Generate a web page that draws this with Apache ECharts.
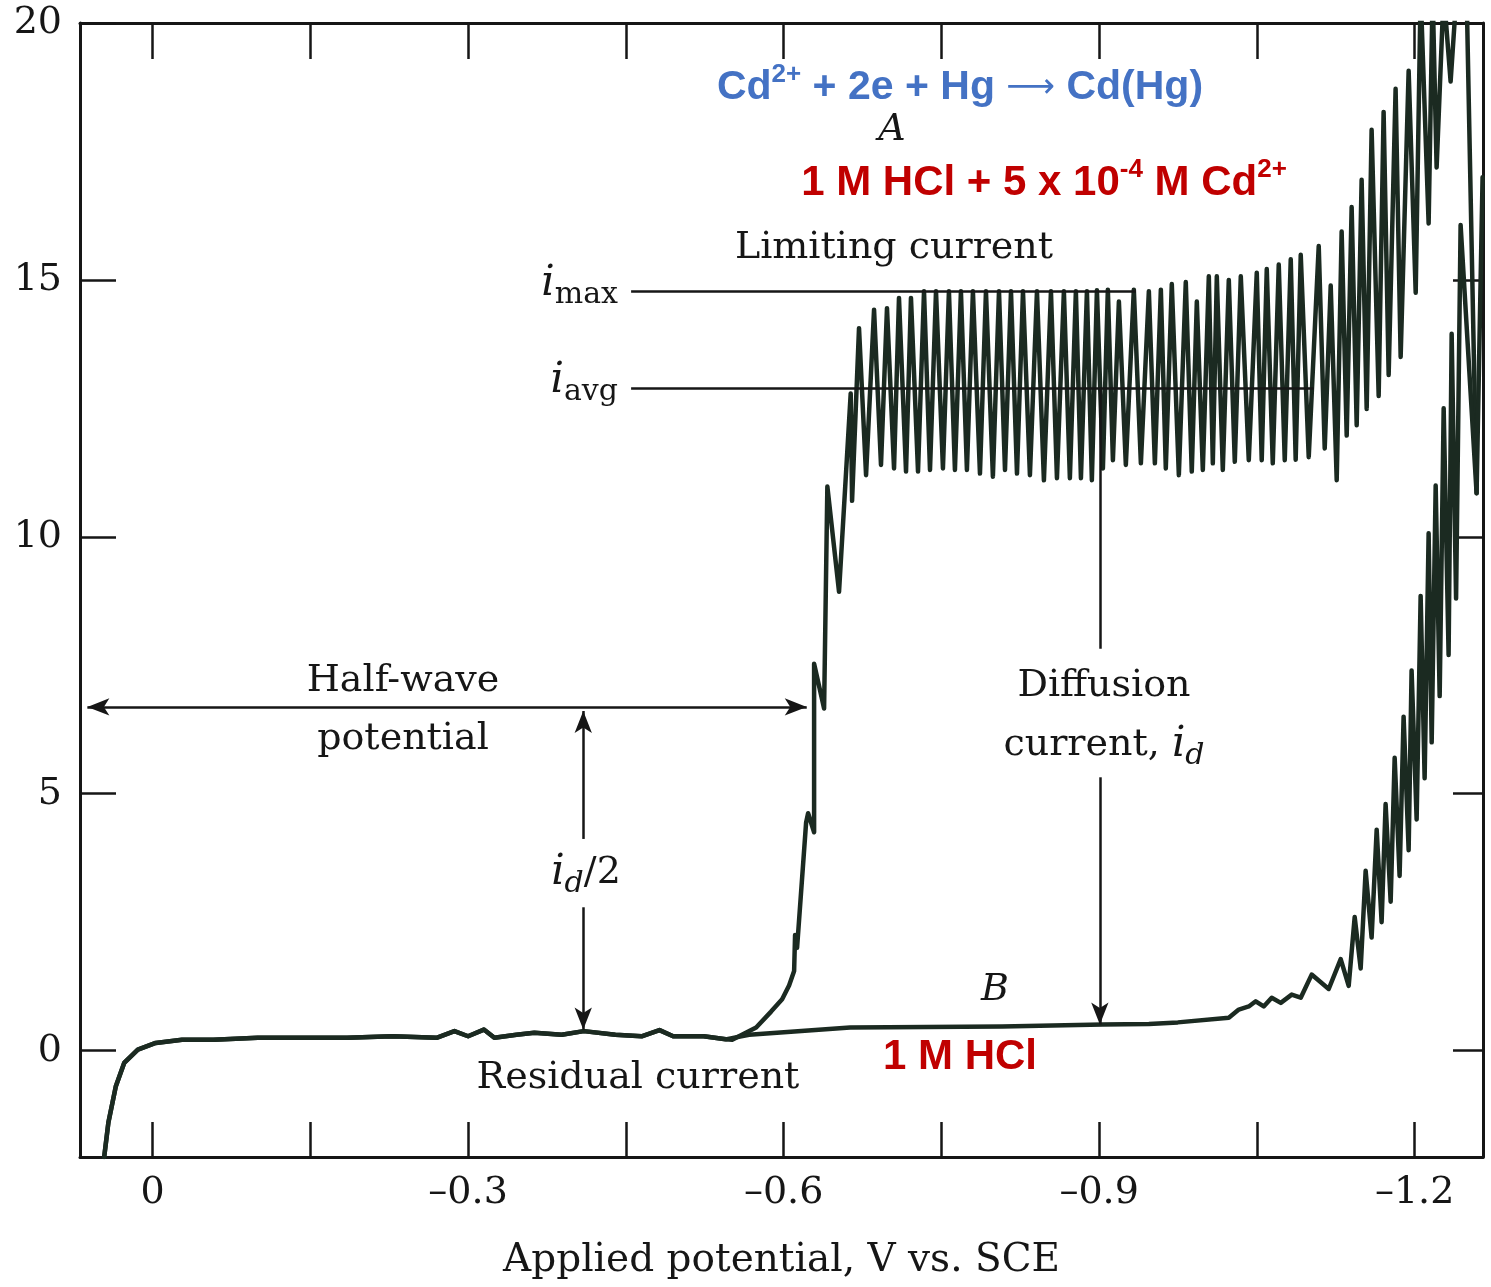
<!DOCTYPE html>
<html><head><meta charset="utf-8">
<script src="https://cdn.jsdelivr.net/npm/echarts@6/dist/echarts.min.js"></script>
<style>html,body{margin:0;padding:0;background:#fff;}#c{width:1491px;height:1287px;}</style>
</head><body><div id="c"></div>
<script>
// ---------- axis ranges & ticks ----------
const xMin = -1.265, xMax = 0.069;
const yMin = -2.07, yMax = 20;
const xTickValues = [0, -0.15, -0.3, -0.45, -0.6, -0.75, -0.9, -1.05, -1.2];
const xLabelValues = [0, -0.3, -0.6, -0.9, -1.2];
const yTickValues = [0, 5, 10, 15, 20];

// ---------- common residual-current part (V vs SCE, µA) ----------
const baseV = [0.046, 0.042, 0.035, 0.027, 0.014, -0.003, -0.028, -0.058, -0.100, -0.185, -0.228, -0.270, -0.287, -0.300, -0.315, -0.325, -0.346, -0.363, -0.389, -0.410, -0.440, -0.465, -0.482, -0.495, -0.524, -0.545];
const baseI = [-2.07, -1.40, -0.70, -0.24, 0.02, 0.15, 0.21, 0.21, 0.25, 0.25, 0.28, 0.25, 0.38, 0.28, 0.41, 0.25, 0.31, 0.35, 0.31, 0.38, 0.31, 0.28, 0.40, 0.28, 0.28, 0.22];

// ---------- curve A: 1 M HCl + 5e-4 M Cd2+ ----------
const cdV = [-0.5511, -0.5739, -0.5881, -0.5986, -0.6052, -0.6100, -0.6109, -0.6128, -0.6214, -0.6233, -0.6290, -0.6290, -0.6385, -0.6416, -0.6527, -0.6638, -0.6651,
  -0.6717, -0.6784, -0.6860, -0.6926, -0.6983, -0.7050, -0.7097, -0.7164, -0.7211, -0.7278, -0.7335, -0.7392, -0.7449, -0.7515, -0.7572, -0.7629, -0.7686, -0.7743,
  -0.7800, -0.7867, -0.7924, -0.7990, -0.8048, -0.8105, -0.8162, -0.8219, -0.8276, -0.8342, -0.8409, -0.8475, -0.8542, -0.8599, -0.8665, -0.8722, -0.8779, -0.8827,
  -0.8884, -0.8931, -0.8979, -0.9036, -0.9083, -0.9131, -0.9188, -0.9254, -0.9330, -0.9397, -0.9473, -0.9530, -0.9587, -0.9634, -0.9691, -0.9758, -0.9824, -0.9881,
  -0.9929, -0.9986, -1.0043, -1.0081, -1.0119, -1.0176, -1.0233, -1.0290, -1.0347, -1.0423, -1.0499, -1.0546, -1.0594, -1.0651, -1.0708, -1.0765, -1.0822, -1.0869,
  -1.0917, -1.0993, -1.1088, -1.1145, -1.1202, -1.1259, -1.1306, -1.1354, -1.1401, -1.1449, -1.1496, -1.1544, -1.1591, -1.1658, -1.1705, -1.1753, -1.1819, -1.1867,
  -1.1943, -1.2010, -1.2057, -1.2133, -1.2171, -1.2209, -1.2276, -1.2342, -1.2399, -1.2494, -1.2589];
const cdI = [0.21, 0.45, 0.76, 1.00, 1.27, 1.55, 2.25, 2.00, 4.44, 4.62, 4.25, 7.53, 6.66, 10.98, 8.93, 12.79, 10.70,
  14.06, 11.20, 14.42, 11.40, 14.45, 11.33, 14.65, 11.27, 14.65, 11.27, 14.78, 11.30, 14.78, 11.33, 14.78, 11.30, 14.78, 11.30,
  14.78, 11.23, 14.78, 11.17, 14.78, 11.30, 14.78, 11.23, 14.78, 11.20, 14.78, 11.10, 14.78, 11.14, 14.78, 11.14, 14.78, 11.14,
  14.78, 11.10, 14.80, 11.33, 14.81, 11.49, 14.58, 11.40, 14.81, 11.43, 14.78, 11.43, 14.81, 11.33, 14.92, 11.20, 14.96, 11.27,
  14.58, 11.30, 15.07, 11.43, 15.07, 11.30, 15.00, 11.46, 15.07, 11.49, 15.14, 11.49, 15.21, 11.43, 15.30, 11.49, 15.40, 11.50,
  15.49, 11.55, 15.66, 11.72, 14.89, 11.10, 15.94, 11.97, 16.42, 12.17, 16.95, 12.49, 17.92, 12.74, 18.27, 13.15, 18.72, 13.50,
  19.07, 14.75, 20.60, 16.10, 20.60, 17.19, 20.60, 18.86, 20.60, 20.60, 10.85];

// ---------- curve B: 1 M HCl only ----------
const hclV = [-0.5672, -0.6632, -0.8076, -0.9036, -0.9473, -0.9748, -1.0233, -1.0328, -1.0423, -1.0489, -1.0565, -1.0641, -1.0727, -1.0831, -1.0917,
  -1.1021, -1.1183, -1.1297, -1.1373, -1.1430, -1.1487, -1.1534, -1.1591, -1.1639, -1.1686, -1.1724, -1.1772, -1.1810, -1.1857, -1.1895, -1.1943,
  -1.1971, -1.2019, -1.2057, -1.2095, -1.2133, -1.2162, -1.2200, -1.2238, -1.2276, -1.2323, -1.2352, -1.2394, -1.2437, -1.2589, -1.2646];
const hclI = [0.31, 0.45, 0.47, 0.51, 0.52, 0.55, 0.64, 0.80, 0.86, 0.96, 0.86, 1.03, 0.93, 1.09, 1.03,
  1.48, 1.20, 1.78, 1.26, 2.60, 1.60, 3.50, 2.20, 4.30, 2.50, 4.80, 2.90, 5.70, 3.40, 6.50, 3.90,
  7.40, 4.50, 8.85, 5.30, 10.07, 6.00, 11.00, 6.90, 12.50, 7.70, 13.95, 8.80, 16.07, 10.85, 17.00];

// ---------- annotation levels (data units) ----------
const iMax = 14.78, iAvg = 12.9;
const levelLineStartV = -0.455, iMaxEndV = -0.935, iAvgEndV = -1.104;
const halfWaveI = 6.69, halfWaveLeftV = 0.062, halfWaveRightV = -0.622;
const idHalfV = -0.4095, idHalfTopI = 6.61, idHalfGapTopI = 4.12, idHalfGapBotI = 2.79, idHalfBaseI = 0.41;
const diffV = -0.9007, diffGapTopI = 7.82, diffGapBotI = 5.32, diffBaseI = 0.51;

const serif = "'DejaVu Serif', 'Liberation Serif', serif";
const sans = "'Liberation Sans', Arial, sans-serif";
const ink = '#161616';
const curveColor = '#1b2a21';
const blue = '#4472C4';
const red = '#C00000';

const zip = (v, i) => v.map((x, k) => [x, i[k]]);
const cdData = zip(baseV.concat(cdV), baseI.concat(cdI));
const hclData = zip(baseV.concat(hclV), baseI.concat(hclI));

function fmtX(v) {
  if (Math.abs(v) < 1e-9) return '0';
  return '\u2013' + Math.abs(v).toFixed(1);
}

const chart = echarts.init(document.getElementById('c'), null, { renderer: 'canvas' });

const axisLineStyle = { color: ink, width: 3 };
const tickStyle = { color: ink, width: 2.5 };

function txt(x, y, text, extra) {
  return {
    type: 'text', x: x, y: y, z: 20, silent: true,
    style: Object.assign({ text: text, fontFamily: serif, fontSize: 38, fill: ink, align: 'center', verticalAlign: 'middle' }, extra || {})
  };
}

const serifRich = {
  n: { fontFamily: serif, fontSize: 38, fill: ink, lineHeight: 52 },
  i: { fontFamily: serif, fontSize: 42, fontStyle: 'italic', fill: ink, lineHeight: 52 },
  s: { fontFamily: serif, fontSize: 30, fill: ink, lineHeight: 30, verticalAlign: 'bottom' },
  d: { fontFamily: serif, fontSize: 30, fontStyle: 'italic', fill: ink, lineHeight: 30, verticalAlign: 'bottom' }
};

const option = {
  animation: false,
  backgroundColor: '#ffffff',
  grid: { left: 80, right: 8, top: 23, bottom: 130, containLabel: false },
  xAxis: [
    {
      type: 'value', position: 'bottom', inverse: true, min: xMin, max: xMax,
      axisLine: { show: true, onZero: false, lineStyle: axisLineStyle },
      axisTick: { show: true, inside: true, length: 35, customValues: xTickValues, lineStyle: tickStyle },
      axisLabel: { show: true, customValues: xLabelValues, formatter: fmtX, fontFamily: serif, fontSize: 38, color: ink, margin: 17 },
      splitLine: { show: false },
      name: 'Applied potential, V vs. SCE', nameLocation: 'middle', nameGap: 84,
      nameTextStyle: { fontFamily: serif, fontSize: 39, color: ink }
    },
    {
      type: 'value', position: 'top', inverse: true, min: xMin, max: xMax,
      axisLine: { show: true, onZero: false, lineStyle: axisLineStyle },
      axisTick: { show: true, inside: true, length: 36, customValues: xTickValues, lineStyle: tickStyle },
      axisLabel: { show: false },
      splitLine: { show: false }
    }
  ],
  yAxis: [
    {
      type: 'value', position: 'left', min: yMin, max: yMax,
      axisLine: { show: true, onZero: false, lineStyle: axisLineStyle },
      axisTick: { show: true, inside: true, length: 36, customValues: yTickValues, lineStyle: tickStyle },
      axisLabel: { show: true, customValues: yTickValues, fontFamily: serif, fontSize: 38, color: ink, margin: 18 },
      splitLine: { show: false }
    },
    {
      type: 'value', position: 'right', min: yMin, max: yMax,
      axisLine: { show: true, onZero: false, lineStyle: axisLineStyle },
      axisTick: { show: true, inside: true, length: 30, customValues: yTickValues, lineStyle: tickStyle },
      axisLabel: { show: false },
      splitLine: { show: false }
    }
  ],
  series: [
    {
      name: '1 M HCl + 5 x 10-4 M Cd2+', type: 'line', data: cdData, xAxisIndex: 0, yAxisIndex: 0,
      showSymbol: false, symbol: 'none', clip: true, silent: true, z: 3,
      lineStyle: { color: curveColor, width: 4.5, join: 'round', cap: 'round' }
    },
    {
      name: '1 M HCl', type: 'line', data: hclData, xAxisIndex: 0, yAxisIndex: 0,
      showSymbol: false, symbol: 'none', clip: true, silent: true, z: 3,
      lineStyle: { color: curveColor, width: 4.5, join: 'round', cap: 'round' }
    },
    {
      name: 'annotations', type: 'line', data: [], xAxisIndex: 0, yAxisIndex: 0, silent: true, z: 4,
      markLine: {
        silent: true, animation: false, symbol: ['none', 'none'], symbolSize: [13, 22],
        label: { show: false }, emphasis: { disabled: true },
        lineStyle: { color: ink, width: 2.5, type: 'solid' },
        data: [
          [{ coord: [levelLineStartV, iMax] }, { coord: [iMaxEndV, iMax] }],
          [{ coord: [levelLineStartV, iAvg] }, { coord: [iAvgEndV, iAvg] }],
          [{ coord: [halfWaveLeftV, halfWaveI], symbol: 'arrow' }, { coord: [halfWaveRightV, halfWaveI], symbol: 'arrow' }],
          [{ coord: [idHalfV, idHalfTopI], symbol: 'arrow' }, { coord: [idHalfV, idHalfGapTopI] }],
          [{ coord: [idHalfV, idHalfGapBotI] }, { coord: [idHalfV, idHalfBaseI], symbol: 'arrow' }],
          [{ coord: [diffV, iAvg] }, { coord: [diffV, diffGapTopI] }],
          [{ coord: [diffV, diffGapBotI] }, { coord: [diffV, diffBaseI], symbol: 'arrow' }]
        ]
      }
    }
  ],
  graphic: [
    {
      type: 'text', x: 960, y: 88, z: 20, silent: true,
      style: {
        text: '{t|Cd}{s|2+}{t| + 2e + Hg }{a|\u27F6}{t| Cd(Hg)}', align: 'center', verticalAlign: 'middle',
        rich: {
          t: { fontFamily: sans, fontWeight: 'bold', fontSize: 41, fill: blue, lineHeight: 52 },
          a: { fontFamily: "'DejaVu Sans', sans-serif", fontSize: 34, fill: blue, lineHeight: 52 },
          s: { fontFamily: sans, fontWeight: 'bold', fontSize: 26, fill: blue, lineHeight: 30, verticalAlign: 'top' }
        }
      }
    },
    {
      type: 'text', x: 1044, y: 183, z: 20, silent: true,
      style: {
        text: '{t|1 M HCl + 5 x 10}{s|-4}{t| M Cd}{s|2+}', align: 'center', verticalAlign: 'middle',
        rich: {
          t: { fontFamily: sans, fontWeight: 'bold', fontSize: 42, fill: red, lineHeight: 52 },
          s: { fontFamily: sans, fontWeight: 'bold', fontSize: 26, fill: red, lineHeight: 30, verticalAlign: 'top' }
        }
      }
    },
    txt(960, 1057, '1 M HCl', { fontFamily: sans, fontWeight: 'bold', fontSize: 42, fill: red }),
    txt(892, 130, 'A', { fontStyle: 'italic', fontSize: 38 }),
    txt(995, 990, 'B', { fontStyle: 'italic', fontSize: 38 }),
    txt(894, 248, 'Limiting current'),
    txt(403, 681, 'Half-wave'),
    txt(403, 739, 'potential'),
    txt(1104, 686, 'Diffusion'),
    txt(638, 1078, 'Residual current'),
    { type: 'text', x: 1104, y: 745, z: 20, silent: true,
      style: { text: '{n|current, }{i|i}{d|d}', align: 'center', verticalAlign: 'middle', rich: serifRich } },
    { type: 'text', x: 586, y: 873, z: 20, silent: true,
      style: { text: '{i|i}{d|d}{n|/2}', align: 'center', verticalAlign: 'middle', rich: serifRich } },
    { type: 'text', x: 618, y: 284, z: 20, silent: true,
      style: { text: '{i|i}{s|max}', align: 'right', verticalAlign: 'middle', rich: serifRich } },
    { type: 'text', x: 618, y: 381, z: 20, silent: true,
      style: { text: '{i|i}{s|avg}', align: 'right', verticalAlign: 'middle', rich: serifRich } }
  ]
};

chart.setOption(option);
</script>
</body></html>
